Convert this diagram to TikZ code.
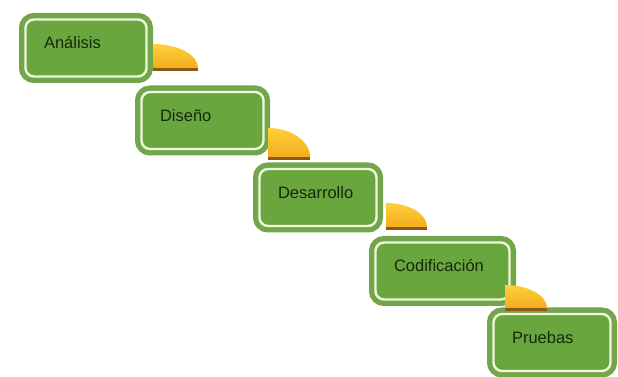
\documentclass[tikz,border=0pt]{standalone}
\usepackage{fontspec}
\setmainfont{Liberation Sans}
\usepackage{xcolor}
\usepackage{tikz}
\usetikzlibrary{shapes}

\definecolor{ring}{HTML}{72A64C}
\definecolor{leaf}{HTML}{6AA63E}
\definecolor{pale}{HTML}{EEF8DC}
\definecolor{ink}{HTML}{14280C}
\definecolor{gold}{HTML}{FFD03C}
\definecolor{amber}{HTML}{F4AC1C}
\definecolor{rim}{HTML}{8C5A12}

\tikzset{stepbox/.style={rounded corners=8.5pt,fill=leaf,draw=pale,line width=2.4pt,
  preaction={draw=ring,line width=13pt},minimum height=57pt,inner xsep=18.5pt,
  text height=9pt,text depth=7.2pt,align=left,text=ink,font=\fontsize{16.5}{19}\selectfont}}

% quarter turn under a step: x, y of the foot, width, height
\newcommand{\stepcurl}[4]{%
  \fill[rim](#1,#2)rectangle++(#3,3);
  \shade[top color=gold,bottom color=amber](#1,#2+3)--++(0,#4-3)
    arc[start angle=90,end angle=0,x radius=#3,y radius=#4-3]--cycle;}

\begin{document}
\begin{tikzpicture}[x=1pt,y=1pt]
\useasboundingbox(0,0)rectangle(618,377);
\node[stepbox,text width=84pt](ana)at(86,329){Análisis};
\node[stepbox,text width=85pt](dis)at(202.5,256.5){Diseño};
\node[stepbox,text width=80pt](des)at(318,179.5){Desarrollo};
\node[stepbox,text width=97pt](cod)at(442.5,106){Codificación};
\node[stepbox,text width=80pt](pru)at(552,34.5){Pruebas};
\stepcurl{153}{306}{45}{27}
\stepcurl{268}{217}{42}{32}
\stepcurl{386}{147}{41}{27}
\stepcurl{505}{66}{42}{26}
\end{tikzpicture}
\end{document}
